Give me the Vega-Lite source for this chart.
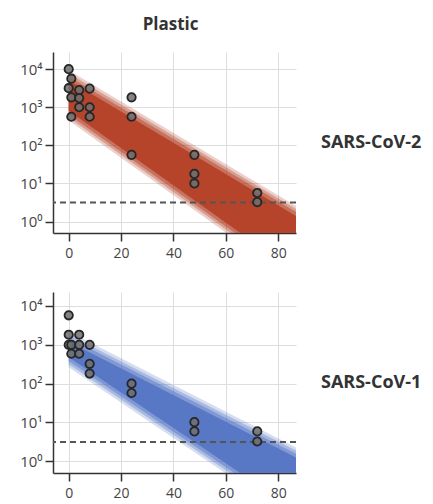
{
  "$schema": "https://vega.github.io/schema/vega-lite/v6.json",
  "padding": {"left": 19, "top": 16, "right": 0, "bottom": 0},
  "config": {
    "font": "Open Sans",
    "view": {"stroke": null},
    "axis": {
      "domainColor": "#333333", "domainWidth": 1.5,
      "tickColor": "#333333", "tickWidth": 1.5, "tickSize": 8,
      "gridColor": "#dddddd", "gridWidth": 1,
      "labelColor": "#444444", "labelFontSize": 15, "labelPadding": 3,
      "title": null
    },
    "axisX": {"labelPadding": 5, "labelFontSize": 14},
    "title": {"fontSize": 17, "fontWeight": "bold", "color": "#333333"}
  },
  "title": {"text": "Plastic", "anchor": "start", "dx": 123, "offset": 18},
  "spacing": 32,
  "data": {
    "values": [
      {"kind": "band", "virus": "SARS-CoV-2", "x": 0, "lo1": 446.7, "hi1": 9333, "lo2": 537.0, "hi2": 7762, "lo3": 645.7, "hi3": 6457, "lo4": 812.8, "hi4": 5129},
      {"kind": "band", "virus": "SARS-CoV-2", "x": 87, "lo1": 0.02455, "hi1": 2.512, "lo2": 0.02951, "hi2": 2.089, "lo3": 0.03548, "hi3": 1.738, "lo4": 0.04467, "hi4": 1.380},
      {"kind": "band", "virus": "SARS-CoV-1", "x": 0, "lo1": 263.0, "hi1": 2188, "lo2": 316.2, "hi2": 1820, "lo3": 380.2, "hi3": 1514, "lo4": 478.6, "hi4": 1202},
      {"kind": "band", "virus": "SARS-CoV-1", "x": 87, "lo1": 0.02884, "hi1": 2.239, "lo2": 0.03467, "hi2": 1.862, "lo3": 0.04169, "hi3": 1.549, "lo4": 0.05248, "hi4": 1.230},
      {"kind": "rule", "virus": "SARS-CoV-2", "y": 3.16},
      {"kind": "rule", "virus": "SARS-CoV-1", "y": 3.16},
      {"kind": "pt", "virus": "SARS-CoV-2", "x": 0, "y": 10000},
      {"kind": "pt", "virus": "SARS-CoV-2", "x": 1, "y": 5623},
      {"kind": "pt", "virus": "SARS-CoV-2", "x": 0, "y": 3162},
      {"kind": "pt", "virus": "SARS-CoV-2", "x": 4, "y": 2818},
      {"kind": "pt", "virus": "SARS-CoV-2", "x": 8, "y": 3090},
      {"kind": "pt", "virus": "SARS-CoV-2", "x": 1, "y": 1820},
      {"kind": "pt", "virus": "SARS-CoV-2", "x": 4, "y": 1738},
      {"kind": "pt", "virus": "SARS-CoV-2", "x": 4, "y": 1000},
      {"kind": "pt", "virus": "SARS-CoV-2", "x": 8, "y": 1000},
      {"kind": "pt", "virus": "SARS-CoV-2", "x": 1, "y": 562},
      {"kind": "pt", "virus": "SARS-CoV-2", "x": 8, "y": 562},
      {"kind": "pt", "virus": "SARS-CoV-2", "x": 24, "y": 1820},
      {"kind": "pt", "virus": "SARS-CoV-2", "x": 24, "y": 562},
      {"kind": "pt", "virus": "SARS-CoV-2", "x": 24, "y": 56.2},
      {"kind": "pt", "virus": "SARS-CoV-2", "x": 48, "y": 56.2},
      {"kind": "pt", "virus": "SARS-CoV-2", "x": 48, "y": 17.8},
      {"kind": "pt", "virus": "SARS-CoV-2", "x": 48, "y": 10},
      {"kind": "pt", "virus": "SARS-CoV-2", "x": 72, "y": 5.62},
      {"kind": "pt", "virus": "SARS-CoV-2", "x": 72, "y": 3.24},
      {"kind": "pt", "virus": "SARS-CoV-1", "x": 0, "y": 5754},
      {"kind": "pt", "virus": "SARS-CoV-1", "x": 0, "y": 1820},
      {"kind": "pt", "virus": "SARS-CoV-1", "x": 4, "y": 1820},
      {"kind": "pt", "virus": "SARS-CoV-1", "x": 0, "y": 1000},
      {"kind": "pt", "virus": "SARS-CoV-1", "x": 1, "y": 1000},
      {"kind": "pt", "virus": "SARS-CoV-1", "x": 4, "y": 1000},
      {"kind": "pt", "virus": "SARS-CoV-1", "x": 8, "y": 1000},
      {"kind": "pt", "virus": "SARS-CoV-1", "x": 1, "y": 589},
      {"kind": "pt", "virus": "SARS-CoV-1", "x": 4, "y": 589},
      {"kind": "pt", "virus": "SARS-CoV-1", "x": 8, "y": 324},
      {"kind": "pt", "virus": "SARS-CoV-1", "x": 8, "y": 182},
      {"kind": "pt", "virus": "SARS-CoV-1", "x": 24, "y": 100},
      {"kind": "pt", "virus": "SARS-CoV-1", "x": 24, "y": 57.5},
      {"kind": "pt", "virus": "SARS-CoV-1", "x": 48, "y": 10.2},
      {"kind": "pt", "virus": "SARS-CoV-1", "x": 48, "y": 5.89},
      {"kind": "pt", "virus": "SARS-CoV-1", "x": 72, "y": 5.89},
      {"kind": "pt", "virus": "SARS-CoV-1", "x": 72, "y": 3.24}
    ]
  },
  "vconcat": [
    {
      "width": 243,
      "height": 181,
      "title": {"text": "SARS-CoV-2", "orient": "right", "angle": 0, "align": "right", "baseline": "middle", "anchor": "middle", "offset": 24, "fontSize": 18},
      "transform": [{"filter": "datum.virus == 'SARS-CoV-2'"}],
      "encoding": {
        "x": {"field": "x", "type": "quantitative",
          "scale": {"domain": [-6, 86.8], "nice": false, "zero": false},
          "axis": {"values": [0, 20, 40, 60, 80], "grid": true}}
      },
      "layer": [
        {"transform": [{"filter": "datum.kind == 'band'"}], "mark": {"type": "area", "clip": true, "color": "#b5442b", "opacity": 0.25},
          "encoding": {"y": {"field": "hi1", "type": "quantitative", "scale": {"type": "log", "domain": [0.5, 28184], "nice": false},
            "axis": {"values": [1, 10, 100, 1000, 10000], "grid": true, "labelExpr": "'10' + ['⁰','¹','²','³','⁴'][round(log(datum.value)/LN10)]"}},
            "y2": {"field": "lo1"}}},
        {"transform": [{"filter": "datum.kind == 'band'"}], "mark": {"type": "area", "clip": true, "color": "#b5442b", "opacity": 0.35},
          "encoding": {"y": {"field": "hi2", "type": "quantitative"}, "y2": {"field": "lo2"}}},
        {"transform": [{"filter": "datum.kind == 'band'"}], "mark": {"type": "area", "clip": true, "color": "#b5442b", "opacity": 0.5},
          "encoding": {"y": {"field": "hi3", "type": "quantitative"}, "y2": {"field": "lo3"}}},
        {"transform": [{"filter": "datum.kind == 'band'"}], "mark": {"type": "area", "clip": true, "color": "#b5442b", "opacity": 1},
          "encoding": {"y": {"field": "hi4", "type": "quantitative"}, "y2": {"field": "lo4"}}},
        {"transform": [{"filter": "datum.kind == 'rule'"}], "mark": {"type": "rule", "color": "#555555", "strokeWidth": 2, "strokeDash": [6, 4]},
          "encoding": {"y": {"field": "y", "type": "quantitative"}, "x": null}},
        {"transform": [{"filter": "datum.kind == 'pt'"}],
          "mark": {"type": "point", "shape": "circle", "filled": true, "size": 70, "fill": "#6e6e6e", "fillOpacity": 0.85, "stroke": "#262626", "strokeWidth": 1.8, "opacity": 1},
          "encoding": {"y": {"field": "y", "type": "quantitative"}}}
      ]
    },
    {
      "width": 243,
      "height": 181,
      "title": {"text": "SARS-CoV-1", "orient": "right", "angle": 0, "align": "right", "baseline": "middle", "anchor": "middle", "offset": 24, "fontSize": 18},
      "transform": [{"filter": "datum.virus == 'SARS-CoV-1'"}],
      "encoding": {
        "x": {"field": "x", "type": "quantitative",
          "scale": {"domain": [-6, 86.8], "nice": false, "zero": false},
          "axis": {"values": [0, 20, 40, 60, 80], "grid": true}}
      },
      "layer": [
        {"transform": [{"filter": "datum.kind == 'band'"}], "mark": {"type": "area", "clip": true, "color": "#5878c6", "opacity": 0.25},
          "encoding": {"y": {"field": "hi1", "type": "quantitative", "scale": {"type": "log", "domain": [0.5, 22900], "nice": false},
            "axis": {"values": [1, 10, 100, 1000, 10000], "grid": true, "labelExpr": "'10' + ['⁰','¹','²','³','⁴'][round(log(datum.value)/LN10)]"}},
            "y2": {"field": "lo1"}}},
        {"transform": [{"filter": "datum.kind == 'band'"}], "mark": {"type": "area", "clip": true, "color": "#5878c6", "opacity": 0.35},
          "encoding": {"y": {"field": "hi2", "type": "quantitative"}, "y2": {"field": "lo2"}}},
        {"transform": [{"filter": "datum.kind == 'band'"}], "mark": {"type": "area", "clip": true, "color": "#5878c6", "opacity": 0.5},
          "encoding": {"y": {"field": "hi3", "type": "quantitative"}, "y2": {"field": "lo3"}}},
        {"transform": [{"filter": "datum.kind == 'band'"}], "mark": {"type": "area", "clip": true, "color": "#5878c6", "opacity": 1},
          "encoding": {"y": {"field": "hi4", "type": "quantitative"}, "y2": {"field": "lo4"}}},
        {"transform": [{"filter": "datum.kind == 'rule'"}], "mark": {"type": "rule", "color": "#555555", "strokeWidth": 2, "strokeDash": [6, 4]},
          "encoding": {"y": {"field": "y", "type": "quantitative"}, "x": null}},
        {"transform": [{"filter": "datum.kind == 'pt'"}],
          "mark": {"type": "point", "shape": "circle", "filled": true, "size": 70, "fill": "#6e6e6e", "fillOpacity": 0.85, "stroke": "#262626", "strokeWidth": 1.8, "opacity": 1},
          "encoding": {"y": {"field": "y", "type": "quantitative"}}}
      ]
    }
  ]
}
